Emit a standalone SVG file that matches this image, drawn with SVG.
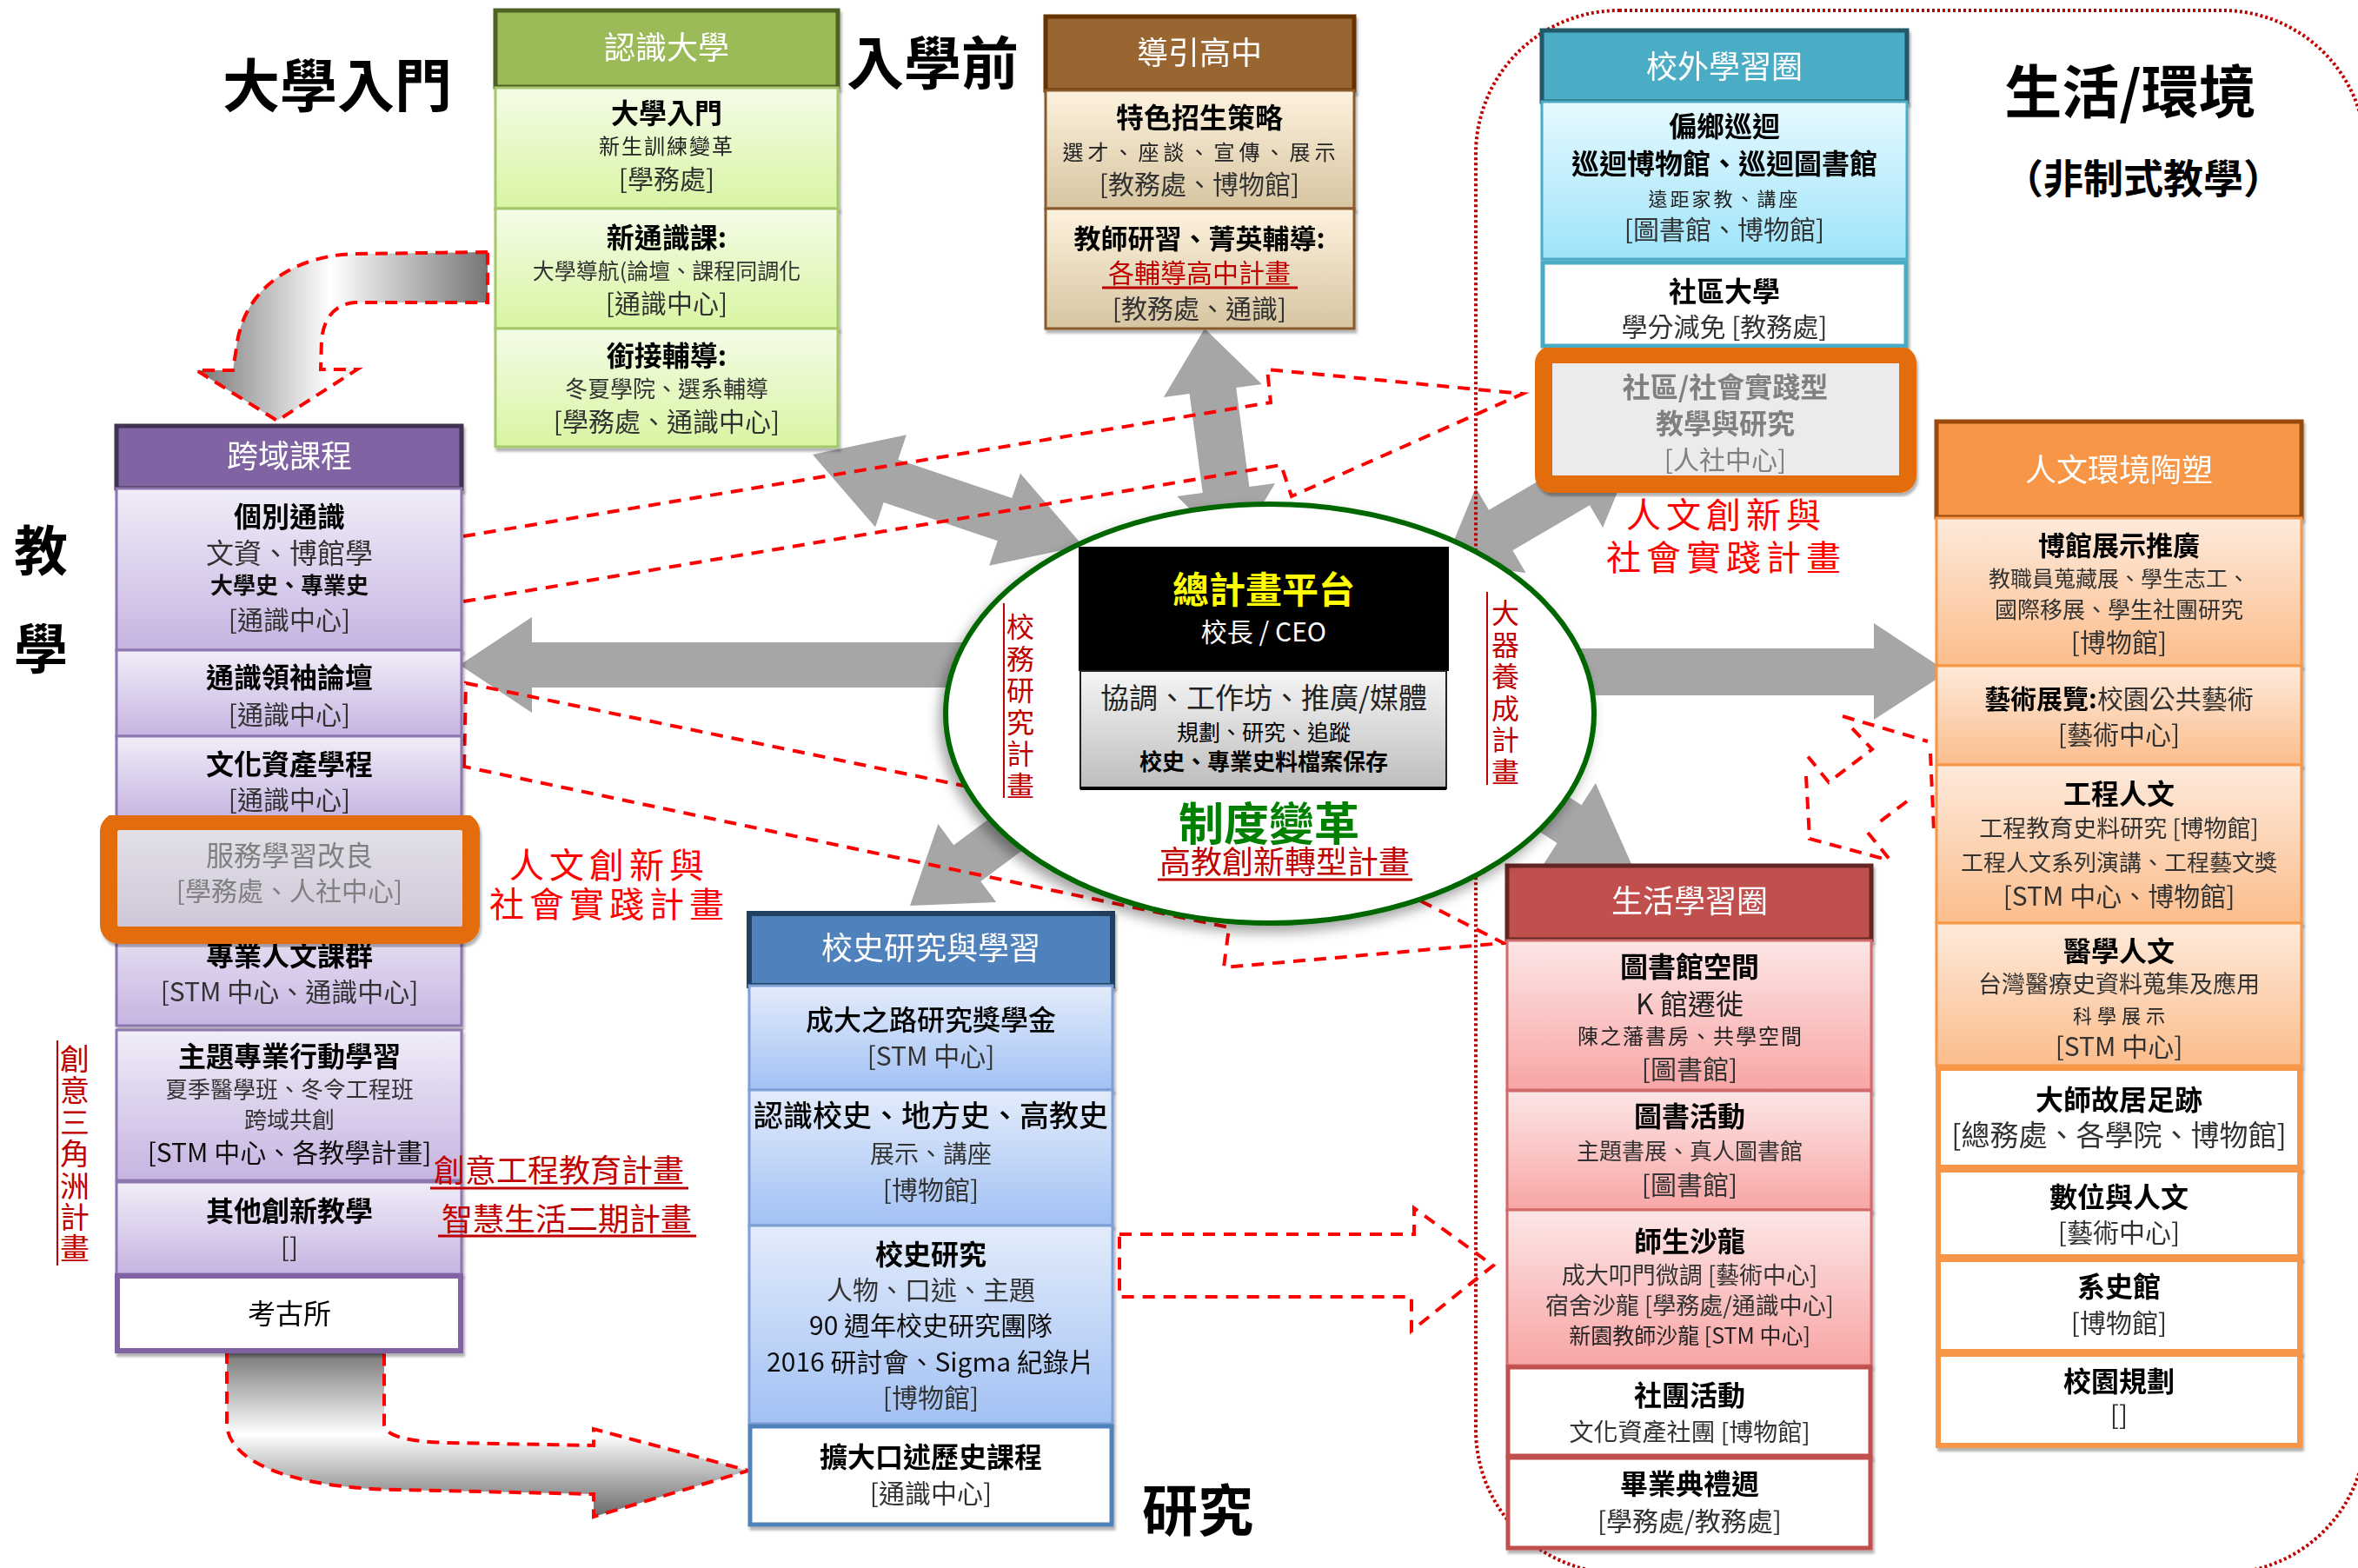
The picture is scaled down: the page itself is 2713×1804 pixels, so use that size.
<svg xmlns="http://www.w3.org/2000/svg" width="2713" height="1804" viewBox="0 0 2713 1804">
<defs>
<style>
text{font-family:"Noto Sans CJK TC","Noto Sans CJK SC","Noto Sans CJK JP",sans-serif;text-anchor:middle}
.hd{font-size:36px;fill:#fff}
.tb{font-size:32px;font-weight:700;fill:#000}
.tr{font-size:30px;fill:#333}
.big{font-size:66px;font-weight:700;fill:#000}
.red{fill:#C00000}
.rr{fill:#FF0000}
.gy{fill:#808080}
.sub{stroke-width:3}
.gar{fill:#A6A6A6}
.dash{fill:none;stroke:#FF0000;stroke-width:4;stroke-dasharray:14 10}
.node{filter:url(#bsh)}
.vt{writing-mode:vertical-rl;text-anchor:start;fill:#C00000}
</style>
<linearGradient id="gG" x1="0" y1="0" x2="0" y2="1"><stop offset="0" stop-color="#F4FCE8"/><stop offset="1" stop-color="#D8F5A2"/></linearGradient>
<linearGradient id="gBr" x1="0" y1="0" x2="0" y2="1"><stop offset="0" stop-color="#FDF2DE"/><stop offset="1" stop-color="#D7C5A1"/></linearGradient>
<linearGradient id="gT" x1="0" y1="0" x2="0" y2="1"><stop offset="0" stop-color="#E6F9FE"/><stop offset="1" stop-color="#9EE4FA"/></linearGradient>
<linearGradient id="gP" x1="0" y1="0" x2="0" y2="1"><stop offset="0" stop-color="#F1EDF8"/><stop offset="1" stop-color="#C6B4E1"/></linearGradient>
<linearGradient id="gGr" x1="0" y1="0" x2="0" y2="1"><stop offset="0" stop-color="#E4E2E9"/><stop offset="1" stop-color="#CDC5D8"/></linearGradient>
<linearGradient id="gB" x1="0" y1="0" x2="0" y2="1"><stop offset="0" stop-color="#E3ECFB"/><stop offset="1" stop-color="#A2C1F4"/></linearGradient>
<linearGradient id="gPk" x1="0" y1="0" x2="0" y2="1"><stop offset="0" stop-color="#FDE6E6"/><stop offset="1" stop-color="#F8A5A5"/></linearGradient>
<linearGradient id="gO" x1="0" y1="0" x2="0" y2="1"><stop offset="0" stop-color="#FEEADB"/><stop offset="1" stop-color="#FBBD8C"/></linearGradient>
<linearGradient id="gC" x1="0" y1="0" x2="0" y2="1"><stop offset="0" stop-color="#F5F5F5"/><stop offset="1" stop-color="#BDBDBD"/></linearGradient>
<linearGradient id="ca1" gradientUnits="userSpaceOnUse" x1="226" y1="0" x2="561" y2="0"><stop offset="0" stop-color="#767676"/><stop offset="0.46" stop-color="#FFFFFF"/><stop offset="1" stop-color="#767676"/></linearGradient>
<linearGradient id="ca2" gradientUnits="userSpaceOnUse" x1="0" y1="1555" x2="0" y2="1745"><stop offset="0" stop-color="#767676"/><stop offset="0.5" stop-color="#FFFFFF"/><stop offset="1" stop-color="#6A6A6A"/></linearGradient>
<filter id="bsh" x="-5%" y="-5%" width="110%" height="115%"><feDropShadow dx="2" dy="4" stdDeviation="1.5" flood-color="#000" flood-opacity="0.3"/></filter>
<filter id="esh" x="-10%" y="-10%" width="120%" height="125%"><feDropShadow dx="-5" dy="8" stdDeviation="7" flood-color="#000" flood-opacity="0.35"/></filter>
</defs>
<rect width="2713" height="1804" fill="#fff"/>
<g fill="#222">

<!-- gray arrows -->
<g id="gray-arrows" class="gar">
<polygon points="1120,739 612,739 612,710 529,765 612,820 612,791 1120,791"/>
<polygon points="1800,746 2156,746 2156,717 2241,773 2156,828 2156,800 1800,800"/>
<polygon points="935,523 1007.1,606.5 1016.7,578 1147.7,622.2 1138.1,650.7 1246,628 1173.9,544.5 1164.3,573 1033.3,528.8 1042.9,500.3"/>
<polygon points="1386,378 1451.9,441.9 1422.2,445.9 1437.4,560.1 1467.1,556.1 1420,635 1354.1,571.1 1383.8,567.1 1368.6,452.9 1338.9,456.9"/>
<polygon points="1662,648 1755.5,659.1 1740.4,633.3 1829,581.3 1844.1,607.1 1880,520 1786.5,508.9 1801.6,534.7 1713,586.7 1697.9,560.9"/>
<polygon points="1047,1042 1146.2,1038.1 1128.3,1014 1248.8,924.6 1217.8,882.8 1097.3,972.2 1079.4,948.1"/>
<polygon points="1877,994 1835.8,901.1 1819.6,926.3 1693.6,845.3 1665.6,888.9 1791.6,969.9 1775.4,995.1"/>
</g>

<!-- region boundary -->
<g id="region-life">
<rect x="1698" y="12" width="1024" height="1798" rx="165" fill="none" stroke="#C00000" stroke-width="4" stroke-dasharray="3 3"/>
</g>

<!-- connectors -->
<g id="connectors">
<path d="M561,290 L408,292 C340,294 280,330 272,400 L268,426 L226,426 L319,484 L411,425 L369,425 L370,391 C372,368 384,350 408,348 L561,348 Z" fill="url(#ca1)" stroke="#FF0000" stroke-width="4" stroke-dasharray="14 9"/>
<path d="M261,1555 L261,1639 C263,1680 330,1712 459,1714 L683,1719 L683,1745 L861,1692 L683,1644 L683,1663 L517,1660 C470,1659 442,1652 442,1639 L442,1555 Z" fill="url(#ca2)" stroke="#FF0000" stroke-width="4" stroke-dasharray="14 9"/>
<path class="dash" d="M533,617 L1462,463 L1458,425 L1752,453 L1486,571 L1474,535 L533,692"/>
<path class="dash" d="M534,882 L536,786 L1400,964 L1395,915 L1730,1085 L1408,1113 L1414,1067 Z"/>
<path class="dash" d="M1288,1420 L1627,1420 L1627,1390 L1718,1456 L1624,1531 L1624,1492 L1288,1492 Z"/>
<path class="dash" d="M2120,824 L2218,853 M2221,867 L2225,956 M2131,838 L2154,862 L2104,900 L2075,864 M2078,893 L2082,965 L2171,989 M2194,922 L2158,949 M2149,958 L2176,991"/>
</g>

<!-- 認識大學 column -->
<g id="n-renshi" class="node">
<rect x="570" y="12" width="394" height="88" fill="#9BBB59" stroke="#4F6228" stroke-width="5"/>
<text x="767" y="68" class="hd">認識大學</text>
</g>
<g id="n-daxuerumen" class="node">
<rect x="570" y="101" width="394" height="139" fill="url(#gG)" stroke="#A5C86A" class="sub"/>
<text x="767" y="142" class="tb">大學入門</text>
<text x="767" y="177" font-size="24" letter-spacing="2">新生訓練變革</text>
<text x="767" y="217" class="tr">[學務處]</text>
</g>
<g id="n-xintongshi" class="node">
<rect x="570" y="240" width="394" height="138" fill="url(#gG)" stroke="#A5C86A" class="sub"/>
<text x="767" y="285" class="tb">新通識課:</text>
<text x="767" y="321" font-size="25" fill="#333">大學導航(論壇、課程同調化</text>
<text x="767" y="360" class="tr">[通識中心]</text>
</g>
<g id="n-xianjie" class="node">
<rect x="570" y="378" width="394" height="136" fill="url(#gG)" stroke="#A5C86A" class="sub"/>
<text x="767" y="421" class="tb">銜接輔導:</text>
<text x="767" y="457" font-size="26" fill="#333">冬夏學院、選系輔導</text>
<text x="767" y="496" class="tr">[學務處、通識中心]</text>
</g>

<!-- 導引高中 column -->
<g id="n-daoyin" class="node">
<rect x="1203" y="19" width="355" height="85" fill="#996633" stroke="#663300" stroke-width="5"/>
<text x="1380" y="74" class="hd">導引高中</text>
</g>
<g id="n-tese" class="node">
<rect x="1203" y="104" width="355" height="136" fill="url(#gBr)" stroke="#8B5A2B" class="sub"/>
<text x="1380" y="147" class="tb">特色招生策略</text>
<text x="1382" y="184" font-size="24" letter-spacing="5">選才、座談、宣傳、展示</text>
<text x="1380" y="223" class="tr">[教務處、博物館]</text>
</g>
<g id="n-jiaoshi" class="node">
<rect x="1203" y="240" width="355" height="138" fill="url(#gBr)" stroke="#8B5A2B" class="sub"/>
<text x="1380" y="286" class="tb" style="font-size:31px">教師研習、菁英輔導:</text>
<text x="1380" y="325" font-size="30" class="red">各輔導高中計畫</text>
<line x1="1268" y1="331" x2="1493" y2="331" stroke="#C00000" stroke-width="3"/>
<text x="1380" y="366" class="tr">[教務處、通識]</text>
</g>

<!-- 校外學習圈 column -->
<g id="n-xiaowai" class="node">
<rect x="1774" y="35" width="420" height="82" fill="#4BACC6" stroke="#215868" stroke-width="5"/>
<text x="1984" y="90" class="hd">校外學習圈</text>
</g>
<g id="n-pianxiang" class="node">
<rect x="1774" y="117" width="420" height="181" fill="url(#gT)" stroke="#4BACC6" class="sub"/>
<text x="1984" y="157" class="tb">偏鄉巡迴</text>
<text x="1984" y="200" class="tb">巡迴博物館、巡迴圖書館</text>
<text x="1984" y="237" font-size="22" letter-spacing="3">遠距家教、講座</text>
<text x="1984" y="275" class="tr">[圖書館、博物館]</text>
</g>
<g id="n-shequ" class="node">
<rect x="1775" y="302" width="418" height="96" fill="#fff" stroke="#4BACC6" stroke-width="5"/>
<text x="1984" y="347" class="tb">社區大學</text>
<text x="1984" y="387" class="tr">學分減免 [教務處]</text>
</g>
<g id="n-shehui" class="node">
<rect x="1776" y="408" width="419" height="149" rx="10" fill="#EBEBEB" stroke="#E36C09" stroke-width="20"/>
<text x="1985" y="457" font-size="32" font-weight="700" class="gy">社區/社會實踐型</text>
<text x="1985" y="499" font-size="32" font-weight="700" class="gy">教學與研究</text>
<text x="1985" y="540" font-size="30" class="gy">[人社中心]</text>
</g>

<!-- 人文環境陶塑 column -->
<g id="n-renwen" class="node">
<rect x="2228" y="485" width="420" height="110" fill="#F79646" stroke="#984807" stroke-width="5"/>
<text x="2438" y="554" class="hd">人文環境陶塑</text>
</g>
<g id="n-boguan" class="node">
<rect x="2228" y="596" width="420" height="170" fill="url(#gO)" stroke="#F79646" class="sub"/>
<text x="2438" y="639" class="tb" style="font-size:31px">博館展示推廣</text>
<text x="2438" y="675" font-size="25" fill="#333">教職員蒐藏展、學生志工、</text>
<text x="2438" y="711" font-size="26" fill="#333">國際移展、學生社團研究</text>
<text x="2438" y="750" class="tr">[博物館]</text>
</g>
<g id="n-yishu" class="node">
<rect x="2228" y="766" width="420" height="114" fill="url(#gO)" stroke="#F79646" class="sub"/>
<text x="2438" y="815" font-size="30" fill="#333"><tspan font-weight="700" fill="#000">藝術展覽:</tspan>校園公共藝術</text>
<text x="2438" y="856" class="tr">[藝術中心]</text>
</g>
<g id="n-gongcheng" class="node">
<rect x="2228" y="880" width="420" height="182" fill="url(#gO)" stroke="#F79646" class="sub"/>
<text x="2438" y="925" class="tb">工程人文</text>
<text x="2438" y="963" font-size="27" fill="#333">工程教育史料研究 [博物館]</text>
<text x="2438" y="1002" font-size="26" fill="#333">工程人文系列演講、工程藝文獎</text>
<text x="2438" y="1042" class="tr">[STM 中心、博物館]</text>
</g>
<g id="n-yixue" class="node">
<rect x="2228" y="1062" width="420" height="164" fill="url(#gO)" stroke="#F79646" class="sub"/>
<text x="2438" y="1106" class="tb">醫學人文</text>
<text x="2438" y="1142" font-size="27" fill="#333">台灣醫療史資料蒐集及應用</text>
<text x="2441" y="1177" font-size="22" letter-spacing="6">科學展示</text>
<text x="2438" y="1215" class="tr">[STM 中心]</text>
</g>
<g id="n-dashi" class="node">
<rect x="2230" y="1229" width="416" height="114" fill="#fff" stroke="#F79646" stroke-width="6"/>
<text x="2438" y="1277" class="tb">大師故居足跡</text>
<text x="2438" y="1318" font-size="33" fill="#333">[總務處、各學院、博物館]</text>
</g>
<g id="n-shuwei" class="node">
<rect x="2230" y="1346" width="416" height="100" fill="#fff" stroke="#F79646" stroke-width="6"/>
<text x="2438" y="1389" class="tb">數位與人文</text>
<text x="2438" y="1429" class="tr">[藝術中心]</text>
</g>
<g id="n-xishi" class="node">
<rect x="2230" y="1449" width="416" height="106" fill="#fff" stroke="#F79646" stroke-width="6"/>
<text x="2438" y="1492" class="tb">系史館</text>
<text x="2438" y="1533" class="tr">[博物館]</text>
</g>
<g id="n-xiaoyuan" class="node">
<rect x="2230" y="1558" width="416" height="105" fill="#fff" stroke="#F79646" stroke-width="6"/>
<text x="2438" y="1601" class="tb">校園規劃</text>
<text x="2438" y="1639" class="tr">[]</text>
</g>

<!-- 生活學習圈 column -->
<g id="n-shenghuo" class="node">
<rect x="1734" y="996" width="419" height="85" fill="#C0504D" stroke="#632523" stroke-width="5"/>
<text x="1944" y="1050" class="hd">生活學習圈</text>
</g>
<g id="n-tushuguan" class="node">
<rect x="1734" y="1082" width="419" height="172" fill="url(#gPk)" stroke="#D36A6A" class="sub"/>
<text x="1944" y="1124" class="tb">圖書館空間</text>
<text x="1944" y="1167" font-size="32" fill="#222">K 館遷徙</text>
<text x="1945" y="1201" font-size="24" letter-spacing="2">陳之藩書房、共學空間</text>
<text x="1944" y="1241" class="tr">[圖書館]</text>
</g>
<g id="n-tushuhuodong" class="node">
<rect x="1734" y="1255" width="419" height="137" fill="url(#gPk)" stroke="#D36A6A" class="sub"/>
<text x="1944" y="1296" class="tb">圖書活動</text>
<text x="1944" y="1334" font-size="26" fill="#333">主題書展、真人圖書館</text>
<text x="1944" y="1374" class="tr">[圖書館]</text>
</g>
<g id="n-shisheng" class="node">
<rect x="1734" y="1392" width="419" height="179" fill="url(#gPk)" stroke="#D36A6A" class="sub"/>
<text x="1944" y="1440" class="tb">師生沙龍</text>
<text x="1944" y="1477" font-size="27" fill="#333">成大叩門微調 [藝術中心]</text>
<text x="1944" y="1512" font-size="27" fill="#333">宿舍沙龍 [學務處/通識中心]</text>
<text x="1944" y="1546" font-size="25" fill="#222">新園教師沙龍 [STM 中心]</text>
</g>
<g id="n-shetuan" class="node">
<rect x="1735" y="1573" width="417" height="102" fill="#fff" stroke="#C0504D" stroke-width="5"/>
<text x="1944" y="1617" class="tb">社團活動</text>
<text x="1944" y="1658" font-size="28" fill="#333">文化資產社團 [博物館]</text>
</g>
<g id="n-biye" class="node">
<rect x="1735" y="1677" width="417" height="104" fill="#fff" stroke="#C0504D" stroke-width="5"/>
<text x="1944" y="1719" class="tb">畢業典禮週</text>
<text x="1944" y="1761" class="tr">[學務處/教務處]</text>
</g>

<!-- 校史研究與學習 column -->
<g id="n-xiaoshi" class="node">
<rect x="862" y="1051" width="418" height="83" fill="#4F81BD" stroke="#243F60" stroke-width="6"/>
<text x="1071" y="1104" class="hd">校史研究與學習</text>
</g>
<g id="n-chengda" class="node">
<rect x="862" y="1134" width="418" height="120" fill="url(#gB)" stroke="#7BA0D6" class="sub"/>
<text x="1071" y="1185" font-size="32" font-weight="500" fill="#000">成大之路研究獎學金</text>
<text x="1071" y="1226" class="tr">[STM 中心]</text>
</g>
<g id="n-renshixiaoshi" class="node">
<rect x="862" y="1254" width="418" height="156" fill="url(#gB)" stroke="#7BA0D6" class="sub"/>
<text x="1071" y="1296" font-size="34" font-weight="500" fill="#000">認識校史、地方史、高教史</text>
<text x="1071" y="1338" font-size="28" fill="#333">展示、講座</text>
<text x="1071" y="1380" class="tr">[博物館]</text>
</g>
<g id="n-xiaoshiyanjiu" class="node">
<rect x="862" y="1410" width="418" height="228" fill="url(#gB)" stroke="#7BA0D6" class="sub"/>
<text x="1071" y="1455" class="tb">校史研究</text>
<text x="1071" y="1495" class="tr">人物、口述、主題</text>
<text x="1071" y="1536" font-size="30" fill="#111">90 週年校史研究團隊</text>
<text x="1071" y="1578" font-size="30" fill="#111">2016 研討會、Sigma 紀錄片</text>
<text x="1071" y="1619" class="tr">[博物館]</text>
</g>
<g id="n-koushu" class="node">
<rect x="863" y="1641" width="416" height="113" fill="#fff" stroke="#4F81BD" stroke-width="5"/>
<text x="1071" y="1688" class="tb">擴大口述歷史課程</text>
<text x="1071" y="1729" class="tr">[通識中心]</text>
</g>

<!-- 跨域課程 column -->
<g id="n-kuayu" class="node">
<rect x="134" y="490" width="397" height="72" fill="#8064A2" stroke="#3F3151" stroke-width="5"/>
<text x="333" y="538" class="hd">跨域課程</text>
</g>
<g id="n-gebie" class="node">
<rect x="134" y="562" width="397" height="186" fill="url(#gP)" stroke="#8E76B0" class="sub"/>
<text x="333" y="606" class="tb">個別通識</text>
<text x="333" y="648" font-size="32" fill="#333">文資、博館學</text>
<text x="333" y="683" font-size="26" font-weight="700" fill="#111">大學史、專業史</text>
<text x="333" y="724" class="tr">[通識中心]</text>
</g>
<g id="n-lingxiu" class="node">
<rect x="134" y="748" width="397" height="99" fill="url(#gP)" stroke="#8E76B0" class="sub"/>
<text x="333" y="791" class="tb">通識領袖論壇</text>
<text x="333" y="833" class="tr">[通識中心]</text>
</g>
<g id="n-wenhua" class="node">
<rect x="134" y="847" width="397" height="96" fill="url(#gP)" stroke="#8E76B0" class="sub"/>
<text x="333" y="891" class="tb">文化資產學程</text>
<text x="333" y="931" class="tr">[通識中心]</text>
</g>
<g id="n-zhuanye" class="node">
<rect x="134" y="1040" width="397" height="140" fill="url(#gP)" stroke="#8E76B0" class="sub"/>
<text x="333" y="1111" class="tb">專業人文課群</text>
<text x="333" y="1152" class="tr">[STM 中心、通識中心]</text>
</g>
<g id="n-fuwu" class="node">
<rect x="125" y="945" width="417" height="131" rx="12" fill="url(#gGr)" stroke="#E36C09" stroke-width="20"/>
<text x="333" y="996" font-size="32" class="gy">服務學習改良</text>
<text x="333" y="1036" font-size="30" class="gy">[學務處、人社中心]</text>
</g>
<g id="n-zhuti" class="node">
<rect x="134" y="1185" width="397" height="173" fill="url(#gP)" stroke="#8E76B0" class="sub"/>
<text x="333" y="1227" class="tb">主題專業行動學習</text>
<text x="333" y="1263" font-size="26" fill="#333">夏季醫學班、冬令工程班</text>
<text x="333" y="1298" font-size="26" fill="#333">跨域共創</text>
<text x="333" y="1337" font-size="30" fill="#111">[STM 中心、各教學計畫]</text>
</g>
<g id="n-qita" class="node">
<rect x="134" y="1360" width="397" height="106" fill="url(#gP)" stroke="#8E76B0" class="sub"/>
<text x="333" y="1405" class="tb">其他創新教學</text>
<text x="333" y="1446" class="tr">[]</text>
</g>
<g id="n-kaogu" class="node">
<rect x="135" y="1468" width="395" height="86" fill="#fff" stroke="#8064A2" stroke-width="6"/>
<text x="333" y="1523" font-size="32" fill="#000">考古所</text>
</g>

<!-- center platform -->
<g id="n-center">
<ellipse cx="1461" cy="821" rx="373" ry="241" fill="#fff" stroke="#006600" stroke-width="6" filter="url(#esh)"/>
<rect x="1241" y="629" width="426" height="143" fill="#000"/>
<text x="1454" y="694" font-size="42" font-weight="700" fill="#FFFF00">總計畫平台</text>
<text x="1454" y="738" font-size="30" fill="#FFFFFF">校長 / CEO</text>
<rect x="1243" y="772" width="421" height="135" fill="url(#gC)" stroke="#222" stroke-width="2"/>
<line x1="1243" y1="907" x2="1664" y2="907" stroke="#000" stroke-width="4"/>
<text x="1454" y="815" font-size="33" fill="#222">協調、工作坊、推廣/媒體</text>
<text x="1454" y="852" font-size="25" fill="#000">規劃、研究、追蹤</text>
<text x="1454" y="886" font-size="26" font-weight="700" fill="#000">校史、專業史料檔案保存</text>
<text x="1460" y="967" font-size="52" font-weight="700" fill="#008000">制度變革</text>
<text x="1478" y="1005" font-size="36" class="red">高教創新轉型計畫</text>
<line x1="1332" y1="1012" x2="1625" y2="1012" stroke="#C00000" stroke-width="3"/>
<line x1="1155" y1="694" x2="1155" y2="918" stroke="#C00000" stroke-width="2"/>
<text x="1174" y="705" class="vt" style="font-size:32px;letter-spacing:4.5px">校務研究計畫</text>
<line x1="1711" y1="681" x2="1711" y2="903" stroke="#C00000" stroke-width="2"/>
<text x="1732" y="689" class="vt" style="font-size:32px;letter-spacing:4.5px">大器養成計畫</text>
</g>

<!-- labels -->
<g id="labels">
<text x="388" y="123" class="big">大學入門</text>
<text x="1073" y="97" class="big">入學前</text>
<text x="2451" y="130" class="big">生活/環境</text>
<text x="2466" y="222" font-size="46" font-weight="700" fill="#000">（非制式教學）</text>
<text x="47" y="657" font-size="62" font-weight="700" fill="#000">教</text>
<text x="47" y="770" font-size="62" font-weight="700" fill="#000">學</text>
<text x="1378" y="1761" font-size="64" font-weight="700" fill="#000">研究</text>
<text x="1986" y="607" font-size="40" letter-spacing="6" class="rr">人文創新與</text>
<text x="1986" y="656" font-size="40" letter-spacing="6" class="rr">社會實踐計畫</text>
<text x="701" y="1010" font-size="40" letter-spacing="6" class="rr">人文創新與</text>
<text x="701" y="1055" font-size="40" letter-spacing="6" class="rr">社會實踐計畫</text>
<text x="643" y="1360" font-size="36" class="red">創意工程教育計畫</text>
<line x1="495" y1="1367" x2="792" y2="1367" stroke="#C00000" stroke-width="3"/>
<text x="652" y="1416" font-size="36" class="red">智慧生活二期計畫</text>
<line x1="504" y1="1422" x2="801" y2="1422" stroke="#C00000" stroke-width="3"/>
<line x1="66" y1="1197" x2="66" y2="1456" stroke="#C00000" stroke-width="2"/>
<text x="86" y="1201" class="vt" style="font-size:34px;letter-spacing:2.4px">創意三角洲計畫</text>
</g>
</g>
</svg>
